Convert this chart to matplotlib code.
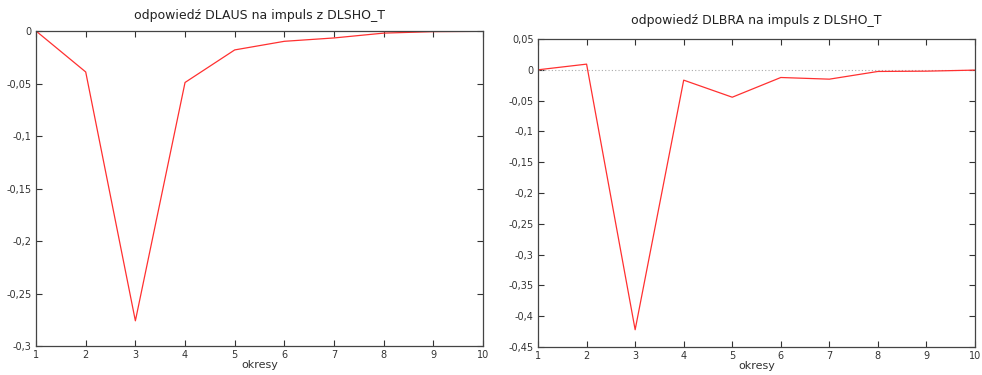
import matplotlib.pyplot as plt
from matplotlib.ticker import FuncFormatter

periods = [1, 2, 3, 4, 5, 6, 7, 8, 9, 10]
resp_aus = [0.0, -0.039, -0.276, -0.049, -0.018, -0.0098, -0.0066, -0.002, -0.0006, -0.0003]
resp_bra = [0.0, 0.0092, -0.422, -0.0168, -0.0445, -0.0125, -0.0152, -0.0027, -0.0022, -0.0005]

titles = ['odpowiedź DLAUS na impuls z DLSHO_T', 'odpowiedź DLBRA na impuls z DLSHO_T']
yticks_aus = [0, -0.05, -0.1, -0.15, -0.2, -0.25, -0.3]
yticks_bra = [0.05, 0, -0.05, -0.1, -0.15, -0.2, -0.25, -0.3, -0.35, -0.4, -0.45]


def pl_fmt(v, pos):
    s = f'{v:.2f}'.rstrip('0').rstrip('.')
    if s in ('-0', '0'):
        return '0'
    return s.replace('.', ',')


def style_axis(ax, yticks):
    ax.set_xlim(1, 10)
    ax.set_xticks(periods)
    ax.set_yticks(yticks)
    ax.set_ylim(min(yticks), max(yticks))
    ax.yaxis.set_major_formatter(FuncFormatter(pl_fmt))
    ax.tick_params(direction='in', length=4, width=0.8, top=True, right=True,
                   labelsize=7, colors='#333333', pad=3)
    for sp in ax.spines.values():
        sp.set_color('#444444')
        sp.set_linewidth(0.9)
    ax.set_xlabel('okresy', fontsize=8, labelpad=0, color='#333333')


fig = plt.figure(figsize=(9.82, 3.75), dpi=100)

ax1 = fig.add_axes([0.0367, 0.0773, 0.4552, 0.84])
ax1.plot(periods, resp_aus, color='#ff3030', lw=0.9)
style_axis(ax1, yticks_aus)
ax1.set_title(titles[0], fontsize=9, pad=9, color='#222222')

ax2 = fig.add_axes([0.5479, 0.0747, 0.445, 0.8213])
ax2.axhline(0, color='#aaaaaa', lw=0.8, ls=(0, (1, 2)))
ax2.plot(periods, resp_bra, color='#ff3030', lw=0.9)
style_axis(ax2, yticks_bra)
ax2.set_title(titles[1], fontsize=9, pad=11, color='#222222')

fig.savefig('out.png', dpi=100)
